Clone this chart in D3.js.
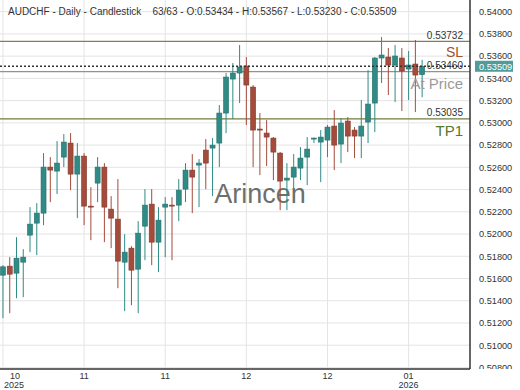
<!DOCTYPE html>
<html>
<head>
<meta charset="utf-8">
<script src="https://cdn.jsdelivr.net/npm/d3@7"></script>
<style>
  body { margin: 0; background: #fff; }
  svg { display: block; font-family: "Liberation Sans", Arial, sans-serif; }
  .ylab { font-size: 9.2px; fill: #333; }
  .xlab { font-size: 9px; fill: #333; }
</style>
</head>
<body>
<svg width="520" height="390"></svg>
<script>
// chart size and plot box (price axis sits on the right)
var width = 520;
var height = 390;
var plotW = 470;
var plotH = 369;

// daily candles, oldest first
var opens = [0.51630,0.51711,0.51648,0.51747,0.51990,0.52098,0.52188,0.52602,0.52566,0.52692,
  0.52818,0.52539,0.52701,0.52251,0.52458,0.52602,0.52224,0.52134,0.51747,0.51873,
  0.51684,0.52071,0.52269,0.51927,0.52242,0.52260,0.52260,0.52404,0.52575,0.52620,
  0.52755,0.52773,0.52818,0.53088,0.53394,0.53448,0.53511,0.53322,0.52944,0.52908,
  0.52863,0.52728,0.52485,0.52512,0.52593,0.52692,0.52854,0.52827,0.52845,0.52971,
  0.52809,0.53016,0.52935,0.52881,0.53007,0.53178,0.53583,0.53592,0.53520,0.53583,
  0.53484,0.53529,0.53434];
var highs = [0.51720,0.51792,0.51972,0.51864,0.52242,0.52278,0.52728,0.52692,0.52836,0.52899,
  0.52908,0.52818,0.52728,0.52422,0.52692,0.52638,0.52341,0.52494,0.51999,0.51891,
  0.52116,0.52404,0.52404,0.52242,0.52332,0.52332,0.52494,0.52638,0.52719,0.52674,
  0.52854,0.52863,0.53160,0.53448,0.53538,0.53700,0.53592,0.53340,0.53088,0.53025,
  0.52872,0.52737,0.52638,0.52719,0.52782,0.52872,0.52868,0.52935,0.52980,0.53115,
  0.53043,0.53052,0.52962,0.53205,0.53475,0.53592,0.53772,0.53673,0.53700,0.53673,
  0.53646,0.53745,0.53567];
var lows = [0.51243,0.51288,0.51423,0.51432,0.51837,0.51810,0.52080,0.52287,0.52359,0.52602,
  0.52395,0.52143,0.52080,0.51945,0.52287,0.51927,0.51873,0.51513,0.51306,0.51360,
  0.51288,0.51765,0.51720,0.51657,0.51792,0.51765,0.52116,0.52287,0.52188,0.52242,
  0.52404,0.52341,0.52602,0.52908,0.53034,0.53178,0.52980,0.52602,0.52530,0.52611,
  0.52485,0.52215,0.52215,0.52278,0.52485,0.52440,0.52818,0.52467,0.52692,0.52575,
  0.52638,0.52737,0.52683,0.52683,0.52818,0.52917,0.53358,0.53250,0.53187,0.53106,
  0.53205,0.53097,0.53230];
var closes = [0.51705,0.51639,0.51783,0.51792,0.52089,0.52188,0.52602,0.52575,0.52638,0.52827,
  0.52539,0.52701,0.52251,0.52247,0.52602,0.52242,0.52143,0.51756,0.51837,0.51675,
  0.52008,0.52260,0.51927,0.52125,0.52269,0.52256,0.52395,0.52575,0.52512,0.52638,
  0.52638,0.52800,0.53088,0.53412,0.53448,0.53502,0.53340,0.52935,0.52935,0.52872,
  0.52737,0.52476,0.52503,0.52602,0.52683,0.52764,0.52863,0.52872,0.52962,0.52800,
  0.52998,0.52881,0.52881,0.52971,0.53169,0.53583,0.53610,0.53520,0.53601,0.53466,
  0.53520,0.53430,0.53509];

// x axis: candle index of each tick, month and year text
var tickIdx = [0, 12, 24, 36, 48, 60];
var tickMonths = ["10", "11", "11", "12", "12", "01"];
var tickYears = ["2025", "", "", "", "", "2026"];

// price axis labels
var priceTicks = [0.508, 0.510, 0.512, 0.514, 0.516, 0.518, 0.520, 0.522, 0.524,
  0.526, 0.528, 0.530, 0.532, 0.534, 0.536, 0.538, 0.540];

// trade levels drawn across the chart
var levelNames = ["SL", "At Price", "TP1"];
var levelValues = [0.53732, 0.53460, 0.53035];
var lastPrice = 0.53509;

var candles = opens.map(function (o, i) {
  return { i: i, o: o, h: highs[i], l: lows[i], c: closes[i] };
});

var svg = d3.select("svg");

var xScale = d3.scaleLinear()
  .domain([-0.44, 69.08])
  .range([0, plotW]);

var yScale = d3.scaleLinear()
  .domain([0.50786, 0.54105])
  .range([plotH, 0]);

svg.append("rect").attr("width", width).attr("height", height).attr("fill", "#fff");

// clip so the bottom price label gets cut like in the original
svg.append("clipPath").attr("id", "axclip")
  .append("rect").attr("x", 0).attr("y", 0).attr("width", width).attr("height", plotH);

// grid
svg.selectAll("line.hgrid").data(priceTicks)
  .enter().append("line")
  .attr("class", "hgrid")
  .attr("x1", 0).attr("x2", plotW)
  .attr("y1", function (d) { return yScale(d); })
  .attr("y2", function (d) { return yScale(d); })
  .attr("stroke", "#e4e4e4");

svg.selectAll("line.vgrid").data(tickIdx)
  .enter().append("line")
  .attr("class", "vgrid")
  .attr("x1", function (d) { return xScale(d); })
  .attr("x2", function (d) { return xScale(d); })
  .attr("y1", 0).attr("y2", plotH)
  .attr("stroke", "#e4e4e4");

// watermark
svg.append("text")
  .attr("x", 260).attr("y", 203)
  .attr("text-anchor", "middle")
  .style("font-size", "27px")
  .style("fill", "#555")
  .style("opacity", 0.85)
  .text("Arincen");

// level lines
var levelColors = ["#8c7b52", "#9b8f88", "#6f7d3e"];
svg.selectAll("line.level").data(levelValues)
  .enter().append("line")
  .attr("class", "level")
  .attr("x1", 0).attr("x2", plotW)
  .attr("y1", function (d) { return yScale(d); })
  .attr("y2", function (d) { return yScale(d); })
  .attr("stroke", function (d, i) { return levelColors[i]; })
  .attr("stroke-width", 1.3);

// candles: wick then body
var upColor = "#2f8b85";
var downColor = "#a44b3c";

svg.selectAll("line.wick").data(candles)
  .enter().append("line")
  .attr("class", "wick")
  .attr("x1", function (d) { return xScale(d.i); })
  .attr("x2", function (d) { return xScale(d.i); })
  .attr("y1", function (d) { return yScale(d.h); })
  .attr("y2", function (d) { return yScale(d.l); })
  .attr("stroke", function (d) { return d.c >= d.o ? upColor : downColor; })
  .attr("stroke-width", 1);

svg.selectAll("rect.body").data(candles)
  .enter().append("rect")
  .attr("class", "body")
  .attr("x", function (d) { return xScale(d.i) - 2.5; })
  .attr("width", 5)
  .attr("y", function (d) { return yScale(Math.max(d.o, d.c)); })
  .attr("height", function (d) {
    return Math.max(1, Math.abs(yScale(d.o) - yScale(d.c)));
  })
  .attr("fill", function (d) { return d.c >= d.o ? upColor : downColor; })
  .attr("stroke", function (d) { return d.c >= d.o ? "#2a6f6b" : "#7f3b30"; })
  .attr("stroke-width", 0.6);

// last price dotted line
svg.append("line")
  .attr("x1", 0).attr("x2", plotW)
  .attr("y1", yScale(lastPrice)).attr("y2", yScale(lastPrice))
  .attr("stroke", "#333")
  .attr("stroke-width", 1.3)
  .attr("stroke-dasharray", "2,2");

// level value labels above each line
svg.selectAll("text.levval").data(levelValues)
  .enter().append("text")
  .attr("class", "levval")
  .attr("x", 463)
  .attr("y", function (d) { return yScale(d) - 2.5; })
  .attr("text-anchor", "end")
  .style("font-size", "10px")
  .style("fill", "#333")
  .text(function (d) { return d.toFixed(5); });

// level names below the lines
var nameColors = ["#a0522d", "#9a9a9a", "#557a25"];
svg.selectAll("text.levname").data(levelNames)
  .enter().append("text")
  .attr("class", "levname")
  .attr("x", 463)
  .attr("y", function (d, i) { return yScale(levelValues[i]) + (i === 0 ? 15.5 : 17); })
  .attr("text-anchor", "end")
  .style("font-size", function (d, i) { return i === 0 ? "14px" : "15px"; })
  .style("fill", function (d, i) { return nameColors[i]; })
  .text(function (d) { return d; });

// axis frame
svg.append("line").attr("x1", plotW).attr("x2", plotW).attr("y1", 0).attr("y2", plotH)
  .attr("stroke", "#333").attr("stroke-width", 1.5);
svg.append("line").attr("x1", 0).attr("x2", plotW).attr("y1", plotH).attr("y2", plotH)
  .attr("stroke", "#333").attr("stroke-width", 1.5);

// price labels
svg.append("g").attr("clip-path", "url(#axclip)")
  .selectAll("text").data(priceTicks)
  .enter().append("text")
  .attr("class", "ylab")
  .attr("x", 479)
  .attr("y", function (d) { return yScale(d) + 3.3; })
  .text(function (d) { return d.toFixed(5); });

// last price tag on the axis
svg.append("rect")
  .attr("x", 475).attr("y", yScale(lastPrice) - 5.5)
  .attr("width", 38).attr("height", 11)
  .attr("fill", "#4f9c9a");
svg.append("text")
  .attr("x", 479).attr("y", yScale(lastPrice) + 3.3)
  .style("font-size", "9.2px")
  .style("fill", "#fff")
  .text(lastPrice.toFixed(5));

// date labels
svg.selectAll("text.xm").data(tickIdx)
  .enter().append("text")
  .attr("class", "xlab")
  .attr("x", function (d) { return Math.max(15, xScale(d)); })
  .attr("y", 379)
  .attr("text-anchor", "middle")
  .text(function (d, i) { return tickMonths[i]; });

svg.selectAll("text.xy").data(tickIdx)
  .enter().append("text")
  .attr("class", "xlab")
  .attr("x", function (d) { return Math.max(14, xScale(d)); })
  .attr("y", 387.5)
  .attr("text-anchor", "middle")
  .text(function (d, i) { return tickYears[i]; });

// header
svg.append("text")
  .attr("x", 8).attr("y", 15)
  .style("font-size", "10px")
  .style("fill", "#333")
  .attr("xml:space", "preserve")
  .text("AUDCHF - Daily - Candlestick    63/63 - O:" + opens[62].toFixed(5) +
    " - H:" + highs[62].toFixed(5) + " - L:" + lows[62].toFixed(5) +
    " - C:" + closes[62].toFixed(5));
</script>
</body>
</html>
